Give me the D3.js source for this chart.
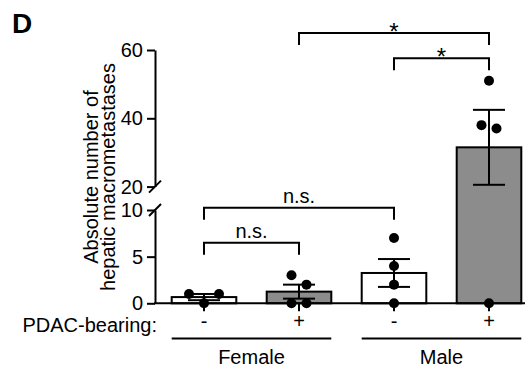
<!DOCTYPE html>
<html lang="en">
<head>
	<meta charset="utf-8">
	<title>Hepatic macrometastases</title>
	<script src="https://d3js.org/d3.v7.min.js"></script>
	<style>
		body { margin: 0; background: #fff; }
		text { font-family: "Liberation Sans", Arial, sans-serif; fill: #000; }
	</style>
</head>
<body>
<svg id="chart" width="525" height="369"></svg>
<script>
	// ---- data ----
	var groups = ["F-", "F+", "M-", "M+"];
	var pdacLabels = ["-", "+", "-", "+"];
	var sexLabels = ["Female", "Male"];
	var sexGroups = [["F-", "F+"], ["M-", "M+"]];
	// individual animals per group
	var femaleNeg = [1, 0, 1];
	var femalePos = [3, 2, 0, 0];
	var maleNeg = [7, 4, 2, 0];
	var malePos = [51, 38, 37, 0];
	var lowTicks = [0, 5, 10];
	var highTicks = [20, 40, 60];
	// comparisons: from, to, label, bracket level (data units)
	var compFrom = ["F-", "F-", "M-", "F+"];
	var compTo = ["F+", "M-", "M+", "M+"];
	var compLabel = ["n.s.", "n.s.", "*", "*"];
	var compLevel = [6.5, 11, 57.6, 65];

	var values = [femaleNeg, femalePos, maleNeg, malePos];

	var svg = d3.select("#chart");
	var axisX = 155;

	// broken y scale: 0-10 below the break, 20-60 above
	var y = d3.scaleLinear()
		.domain([0, 10, 20, 60])
		.range([303.3, 210, 186.6, 50]);
	var yLow = d3.scaleLinear().domain([0, 10]).range([y(0), y(10)]);
	var yHigh = d3.scaleLinear().domain([20, 60]).range([y(20), y(60)]);

	var x = d3.scaleBand()
		.domain(groups)
		.range([156.5, 536.5])
		.paddingInner(0.32)
		.paddingOuter(0.16);

	// summary stats
	var stats = groups.map(function (g, i) {
		var v = values[i];
		var m = d3.mean(v);
		var sem = d3.deviation(v) / Math.sqrt(v.length);
		return { g: g, mean: m, lo: m - sem, hi: m + sem, pdac: pdacLabels[i] };
	});

	// panel letter
	svg.append("text")
		.attr("x", 12).attr("y", 33)
		.style("font-size", "28px").style("font-weight", "bold")
		.text("D");

	// y axes (two segments)
	function styleAxis(sel) {
		sel.selectAll("path, line").attr("stroke", "#000").attr("stroke-width", 2);
		sel.selectAll("text").style("font-size", "20px").style("font-family", "Liberation Sans, Arial, sans-serif");
	}
	svg.append("g")
		.attr("transform", "translate(" + axisX + ",0)")
		.call(d3.axisLeft(yLow).tickValues(lowTicks).tickSize(8).tickSizeOuter(0).tickPadding(4))
		.call(styleAxis);
	svg.append("g")
		.attr("transform", "translate(" + axisX + ",0)")
		.call(d3.axisLeft(yHigh).tickValues(highTicks).tickSize(8).tickSizeOuter(0).tickPadding(4))
		.call(styleAxis);

	// break marks
	svg.selectAll(".brk")
		.data([20, 10])
		.enter().append("line")
		.attr("x1", axisX - 6).attr("x2", axisX + 6)
		.attr("y1", function (d) { return y(d) + 6; })
		.attr("y2", function (d) { return y(d) - 6; })
		.attr("stroke", "#000").attr("stroke-width", 2);

	// y label
	var yLab = svg.append("text")
		.attr("transform", "translate(98,177) rotate(-90)")
		.attr("text-anchor", "middle")
		.style("font-size", "20px");
	yLab.append("tspan").attr("x", 0).attr("y", 0).text("Absolute number of");
	yLab.append("tspan").attr("x", 0).attr("y", 17).text("hepatic macrometastases");

	// bars
	svg.selectAll(".bar")
		.data(stats)
		.enter().append("rect")
		.attr("x", function (d) { return x(d.g); })
		.attr("width", x.bandwidth())
		.attr("y", function (d) { return y(d.mean); })
		.attr("height", function (d) { return y(0) - y(d.mean); })
		.attr("fill", function (d) { return d.pdac == "+" ? "#8c8c8c" : "#fff"; })
		.attr("stroke", "#000").attr("stroke-width", 2);

	// x axis baseline + ticks
	svg.append("line")
		.attr("x1", axisX - 1).attr("x2", 525)
		.attr("y1", y(0)).attr("y2", y(0))
		.attr("stroke", "#000").attr("stroke-width", 2);
	var xAxis = svg.append("g")
		.attr("transform", "translate(0," + y(0) + ")")
		.call(d3.axisBottom(x).tickSize(8).tickPadding(3)
			.tickFormat(function (d, i) { return pdacLabels[i]; }));
	xAxis.select(".domain").remove();
	styleAxis(xAxis);

	// error bars (mean +/- SEM)
	var cap = 16;
	var eb = svg.selectAll(".eb").data(stats).enter().append("g")
		.attr("stroke", "#000").attr("stroke-width", 2);
	eb.append("line")
		.attr("x1", function (d) { return x(d.g) + x.bandwidth() / 2; })
		.attr("x2", function (d) { return x(d.g) + x.bandwidth() / 2; })
		.attr("y1", function (d) { return y(d.lo); })
		.attr("y2", function (d) { return y(d.hi); });
	eb.selectAll(".cap")
		.data(function (d) { return [{ g: d.g, v: d.lo }, { g: d.g, v: d.hi }]; })
		.enter().append("line")
		.attr("x1", function (d) { return x(d.g) + x.bandwidth() / 2 - cap; })
		.attr("x2", function (d) { return x(d.g) + x.bandwidth() / 2 + cap; })
		.attr("y1", function (d) { return y(d.v); })
		.attr("y2", function (d) { return y(d.v); });

	// points: points closer than a dot diameter in y share a row, row is centred
	var r = 5, spread = 15;
	var pts = [];
	groups.forEach(function (g, i) {
		var rows = [];
		values[i].forEach(function (v) {
			var py = y(v);
			var row = rows.find(function (rw) { return Math.abs(rw.y - py) < 2 * r; });
			if (!row) { row = { y: py, items: [] }; rows.push(row); }
			row.items.push({ g: g, v: v });
		});
		rows.forEach(function (rw) {
			var n = rw.items.length;
			rw.items.forEach(function (p, k) {
				p.dx = (k - (n - 1) / 2) * spread;
				pts.push(p);
			});
		});
	});
	svg.selectAll(".dot")
		.data(pts)
		.enter().append("circle")
		.attr("cx", function (d) { return x(d.g) + x.bandwidth() / 2 + d.dx; })
		.attr("cy", function (d) { return y(d.v); })
		.attr("r", r)
		.attr("fill", "#000");

	// significance brackets
	var leg = 12;
	compFrom.forEach(function (f, i) {
		var x1 = x(f) + x.bandwidth() / 2;
		var x2 = x(compTo[i]) + x.bandwidth() / 2;
		var by = y(compLevel[i]);
		svg.append("path")
			.attr("d", "M" + x1 + "," + (by + leg) + "V" + by + "H" + x2 + "V" + (by + leg))
			.attr("fill", "none").attr("stroke", "#000").attr("stroke-width", 2);
		var star = compLabel[i] == "*";
		svg.append("text")
			.attr("x", (x1 + x2) / 2)
			.attr("y", star ? by + 7 : by - 5)
			.attr("text-anchor", "middle")
			.style("font-size", star ? "24px" : "20px")
			.text(compLabel[i]);
	});

	// PDAC-bearing row label
	svg.append("text")
		.attr("x", 157).attr("y", 332)
		.attr("text-anchor", "end")
		.style("font-size", "20px")
		.text("PDAC-bearing:");

	// sex grouping lines + labels
	sexGroups.forEach(function (sg, i) {
		var a = x(sg[0]), b = x(sg[sg.length - 1]) + x.bandwidth();
		svg.append("line")
			.attr("x1", a).attr("x2", b)
			.attr("y1", 338.5).attr("y2", 338.5)
			.attr("stroke", "#000").attr("stroke-width", 2);
		svg.append("text")
			.attr("x", (a + b) / 2).attr("y", 364)
			.attr("text-anchor", "middle")
			.style("font-size", "20px")
			.text(sexLabels[i]);
	});
</script>
</body>
</html>
